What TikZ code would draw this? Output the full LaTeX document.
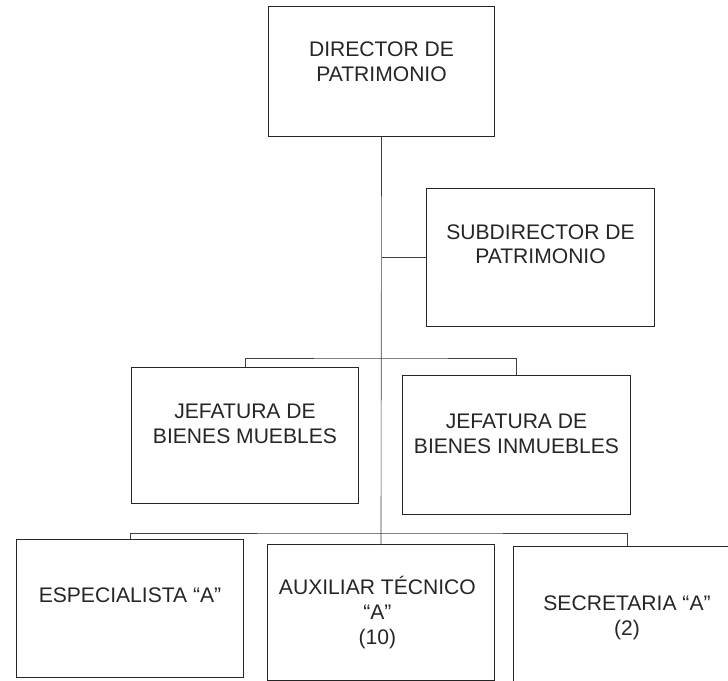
\documentclass[tikz,border=0pt]{standalone}
\usepackage{fontspec}
\setmainfont{Liberation Sans}
\usetikzlibrary{positioning}

\begin{document}
\begin{tikzpicture}[x=0.025cm,y=-0.025cm,
  box/.style={draw=black!85,line width=0.7pt,inner sep=0pt,minimum width=5.65cm,minimum height=3.4cm},
  txt/.style={align=center,text=black!85,font=\fontsize{15}{17.6}\selectfont},
  link/.style={draw=black!75,line width=0.45pt}]

% page
\fill[white] (0,0) rectangle (728,681);
\useasboundingbox (0,0) rectangle (728,681);

% boxes
\node[box,minimum width=5.625cm,minimum height=3.225cm] (dir) at (381.5,71.5) {};
\node[box,minimum width=5.675cm,minimum height=3.425cm] (sub) at (540.5,257.5) {};
\node[box,minimum height=3.375cm] (jm) at (245,435.5) {};
\node[box,minimum width=5.675cm,minimum height=3.45cm] (ji) at (516.5,445) {};
\node[box,minimum height=3.425cm] (esp) at (130,608.5) {};
\node[box,minimum height=3.375cm] (aux) at (381,612.5) {};
\node[box,minimum height=3.575cm] (sec) at (627,618.5) {};

% texts
\node[txt] (dirtxt) at ([yshift=0.24cm]dir.center) {DIRECTOR DE\\PATRIMONIO};
\node[txt] (subtxt) at ([yshift=0.33cm]sub.center) {SUBDIRECTOR DE\\PATRIMONIO};
\node[txt] (jmtxt) at ([yshift=0.29cm]jm.center) {JEFATURA DE\\BIENES MUEBLES};
\node[txt] (jitxt) at ([yshift=0.28cm]ji.center) {JEFATURA DE\\BIENES INMUEBLES};
\node[txt] (esptxt) at ([yshift=0.33cm]esp.center) {ESPECIALISTA “A”};
\node[txt] (auxtxt) at ([xshift=-0.09cm]aux.center) {AUXILIAR TÉCNICO\\“A”\\(10)};
\node[txt] (sectxt) at ([yshift=0.02cm]sec.center) {SECRETARIA “A”\\(2)};

% lines
\coordinate (bar2) at (381,358);
\coordinate (bar3) at (381,533);
\draw[link] (dir.south) -- (aux.north);
\draw[link] (sub.west) -- (sub.west -| dir.south);
\draw[link] (jm.north) |- (bar2) -| (ji.north);
\draw[link] (esp.north) |- (bar3) -| (sec.north);

\end{tikzpicture}
\end{document}
